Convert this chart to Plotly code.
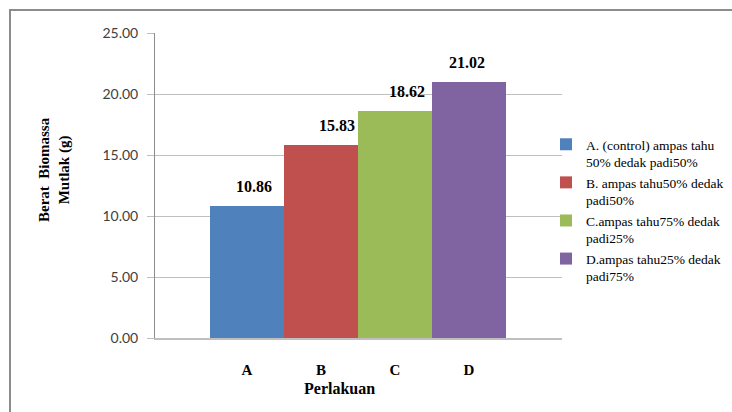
import plotly.graph_objects as go

# Treatment data: absolute biomass weight (g)
categories = ["A", "B", "C", "D"]
series_names = [
    "A. (control) ampas tahu<br>50% dedak padi50%",
    "B. ampas tahu50% dedak<br>padi50%",
    "C.ampas tahu75% dedak<br>padi25%",
    "D.ampas tahu25% dedak<br>padi75%",
]
biomass = [10.86, 15.83, 18.62, 21.02]
y_ticks = [0, 5, 10, 15, 20, 25]

colors = ["#4F81BD", "#C0504D", "#9BBB59", "#8064A2"]
label_dx = [7, 16, 12, -2]  # horizontal nudge of each value label (px)

serif = "Liberation Serif"
sans = "Lato"

fig = go.Figure()

for i, (cat, name, val) in enumerate(zip(categories, series_names, biomass)):
    fig.add_trace(go.Bar(
        x=[i], y=[val], width=1, name=name,
        marker=dict(color=colors[i], line=dict(width=0)),
        showlegend=True, hoverinfo="y",
    ))
    fig.add_annotation(
        x=i, y=val, text=f"<b>{val:.2f}</b>", showarrow=False,
        xanchor="center", yanchor="bottom", xshift=label_dx[i], yshift=9,
        font=dict(family=serif, size=16, color="#000000"),
    )

# axis titles
fig.add_annotation(
    x=(54 - 155) / 407, y=(338 - 170) / 305, xref="paper", yref="paper",
    text="<b>Berat  Biomassa<br>Mutlak (g)</b>", textangle=-90, showarrow=False,
    xanchor="center", yanchor="middle",
    font=dict(family=serif, size=15, color="#000000"),
)
fig.add_annotation(
    x=(339 - 155) / 407, y=(338 - 388) / 305, xref="paper", yref="paper",
    text="<b>Perlakuan</b>", showarrow=False,
    xanchor="center", yanchor="middle",
    font=dict(family=serif, size=16, color="#000000"),
)

# outer chart border
fig.add_shape(
    type="rect", xref="paper", yref="paper",
    x0=(10 - 155) / 407, x1=2.0, y0=-1.0, y1=(338 - 10) / 305,
    line=dict(color="#8c8c8c", width=2), layer="below",
)

fig.update_layout(
    width=732, height=412,
    font=dict(family=serif, size=13, color="#000000"),
    margin=dict(l=155, r=170, t=33, b=74, autoexpand=False),
    paper_bgcolor="white", plot_bgcolor="white",
    bargap=0, barmode="overlay",
    xaxis=dict(
        range=[-1.243, 4.257],
        tickvals=list(range(len(categories))), ticktext=[f"<b>{c}</b>" for c in categories],
        tickfont=dict(family=serif, size=15, color="#000000"),
        ticks="", ticklabelstandoff=17,
        showgrid=False, zeroline=False,
        showline=True, linecolor="#bfbfbf", linewidth=2,
        fixedrange=True,
    ),
    yaxis=dict(
        range=[0, 25], tickvals=y_ticks,
        tickformat=".2f",
        tickfont=dict(family=sans, size=14, color="#404040"),
        ticks="outside", ticklen=7, tickcolor="#bfbfbf", tickwidth=1,
        ticklabelstandoff=6,
        showgrid=True, gridcolor="#bfbfbf", gridwidth=1,
        zeroline=False,
        showline=True, linecolor="#8c8c8c", linewidth=1,
        fixedrange=True,
    ),
    legend=dict(
        x=(546 - 155) / 407, y=(338 - 129) / 305, xanchor="left", yanchor="top",
        font=dict(family=serif, size=13.5, color="#000000"),
        valign="top", itemwidth=30, traceorder="normal",
        bgcolor="rgba(0,0,0,0)",
    ),
    showlegend=True,
)

fig.write_html("out.html")
